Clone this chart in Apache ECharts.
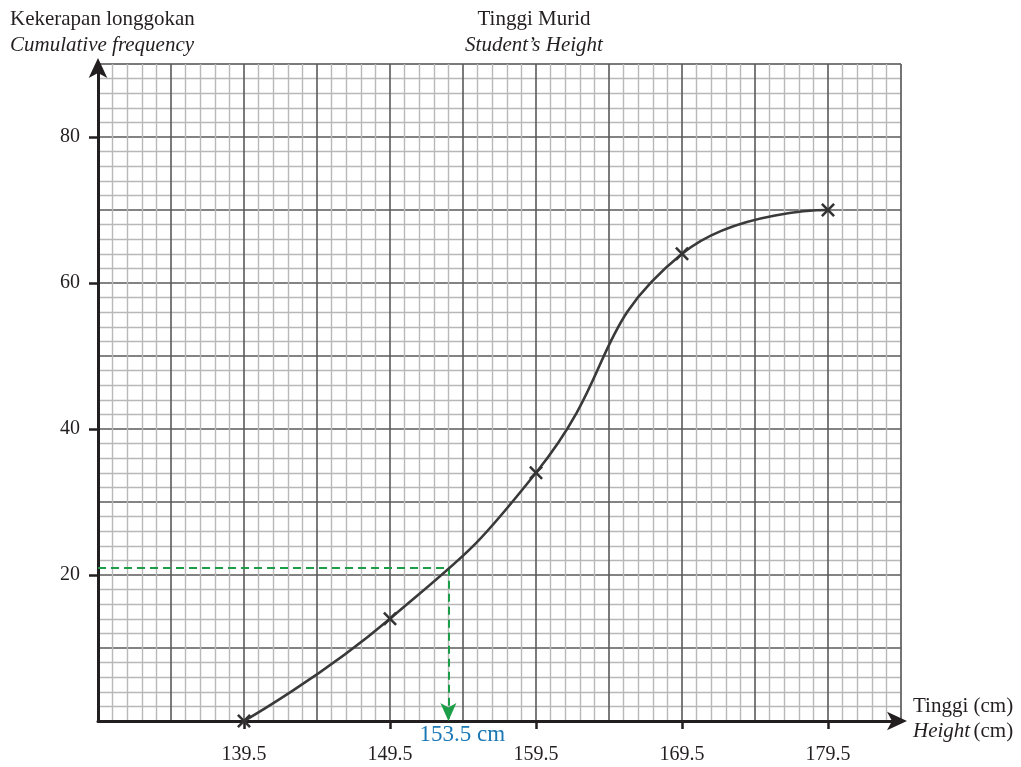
<!DOCTYPE html>
<html>
<head>
<meta charset="utf-8">
<title>Tinggi Murid</title>
<script src="https://cdn.jsdelivr.net/npm/echarts@6/dist/echarts.min.js"></script>
<style>
  html, body { margin: 0; padding: 0; background: #fff; }
  #chart { width: 1021px; height: 767px; }
</style>
</head>
<body>
<div id="chart"></div>
<script>
/*----------数据--------*/
var xBase = 129.5;                                   // left edge of the graph paper
var heights = [139.5, 149.5, 159.5, 169.5, 179.5];   // upper class boundaries
var cumFreq = [0, 14, 34, 64, 70];                   // cumulative frequency
var xTickLabels = [139.5, 149.5, 159.5, 169.5, 179.5];
var yTickLabels = [20, 40, 60, 80];
var readFreq = 21;       // dashed line read-off
var readHeight = 153.5;  // answer on the x axis

var serif = 'Liberation Serif';
var ink = '#231f20';

var myChart = echarts.init(document.getElementById('chart'));

/*x 轴用偏移量 (height - xBase)，这样刻度从 0 开始*/
function off(h) { return h - xBase; }

var curveData = heights.map(function (h, i) { return [off(h), cumFreq[i]]; });
var crossPath = 'path://M0,1.3L1.3,0L5,3.7L8.7,0L10,1.3L6.3,5L10,8.7L8.7,10L5,6.3L1.3,10L0,8.7L3.7,5Z';

var gridXAxis = {
    type: 'value', min: 0, max: 55, interval: 5,
    axisLine: { show: false }, axisTick: { show: false }, axisLabel: { show: false },
    splitLine: { show: true, lineStyle: { color: '#5a5a5a', width: 1.6 } },
    minorTick: { show: false, splitNumber: 5 },
    minorSplitLine: { show: true, lineStyle: { color: '#b8b8b8', width: 1.4 } }
};
var gridYAxis = {
    type: 'value', min: 0, max: 90, interval: 10,
    axisLine: { show: false }, axisTick: { show: false }, axisLabel: { show: false },
    splitLine: { show: true, lineStyle: { color: '#5a5a5a', width: 1.6 } },
    minorTick: { show: false, splitNumber: 5 },
    minorSplitLine: { show: true, lineStyle: { color: '#b8b8b8', width: 1.4 } }
};

myChart.setOption({
    animation: false,
    grid: {
        left: 98, right: 120, top: 64, bottom: 46,
        show: true, borderColor: '#b8b8b8', borderWidth: 1, backgroundColor: '#fff'
    },
    graphic: [
        { type: 'text', left: 10, top: 9, style: { text: 'Kekerapan longgokan', font: '21px "' + serif + '"', fill: ink } },
        { type: 'text', left: 10, top: 35, style: { text: 'Cumulative frequency', font: 'italic 21px "' + serif + '"', fill: ink } },
        { type: 'text', x: 534, y: 9, style: { text: 'Tinggi Murid', font: '21px "' + serif + '"', fill: ink, align: 'center' } },
        { type: 'text', x: 534, y: 35, style: { text: 'Student\u2019s Height', font: 'italic 21px "' + serif + '"', fill: ink, align: 'center' } }
    ],
    xAxis: [
        gridXAxis,
        {
            type: 'value', min: 0, max: 55, position: 'bottom',
            axisLine: {
                show: true, onZero: false,
                symbol: ['none', 'arrow'], symbolSize: [14, 20], symbolOffset: [0, 6],
                lineStyle: { color: ink, width: 3 }
            },
            axisTick: { show: true, length: 8, customValues: xTickLabels.map(off), lineStyle: { color: ink, width: 2.5 } },
            axisLabel: {
                show: true, customValues: xTickLabels.map(off), margin: 24,
                fontFamily: serif, fontSize: 20, color: ink,
                formatter: function (v) { return (v + xBase).toFixed(1); }
            },
            splitLine: { show: false },
            name: '{a|Tinggi (cm)}\n{b|Height} {a|(cm)}',
            nameLocation: 'end', nameGap: 12,
            nameTextStyle: {
                align: 'left', verticalAlign: 'middle', lineHeight: 25, padding: [0, 0, 4, 0],
                rich: {
                    a: { fontFamily: serif, fontSize: 21, color: ink, lineHeight: 25 },
                    b: { fontFamily: serif, fontSize: 21, color: ink, fontStyle: 'italic', lineHeight: 25 }
                }
            }
        }
    ],
    yAxis: [
        gridYAxis,
        {
            type: 'value', min: 0, max: 90, position: 'left',
            axisLine: {
                show: true, onZero: false,
                symbol: ['none', 'arrow'], symbolSize: [14, 20], symbolOffset: [0, 6],
                lineStyle: { color: ink, width: 3 }
            },
            axisTick: { show: true, length: 9, customValues: yTickLabels, lineStyle: { color: ink, width: 2.5 } },
            axisLabel: {
                show: true, customValues: yTickLabels, margin: 18,
                fontFamily: serif, fontSize: 20, color: ink
            },
            splitLine: { show: false }
        }
    ],
    series: [
        {
            name: 'dashed',
            type: 'line',
            xAxisIndex: 0, yAxisIndex: 0,
            data: [],
            markLine: {
                silent: true,
                symbol: 'none',
                lineStyle: { color: '#1c9e48', width: 2, type: [8, 5] },
                label: { show: false },
                data: [
                    [{ coord: [0, readFreq] }, { coord: [off(readHeight), readFreq] }],
                    [{ coord: [off(readHeight), readFreq] },
                     { coord: [off(readHeight), 0], symbol: 'arrow', symbolSize: [12, 18] }]
                ]
            },
            markPoint: {
                silent: true,
                symbol: 'circle', symbolSize: 0,
                label: {
                    show: true, position: 'inside', offset: [14, 14],
                    formatter: readHeight + ' cm',
                    fontFamily: serif, fontSize: 23, color: '#1b78b4'
                },
                data: [{ coord: [off(readHeight), 0] }]
            }
        },
        {
            name: 'Kekerapan longgokan',
            type: 'line',
            xAxisIndex: 0, yAxisIndex: 0,
            smooth: 0.5,
            data: curveData,
            symbol: crossPath,
            symbolSize: 14,
            itemStyle: { color: '#333333' },
            lineStyle: { color: '#3a3a3a', width: 2.6 },
            z: 5
        }
    ]
});
</script>
</body>
</html>
